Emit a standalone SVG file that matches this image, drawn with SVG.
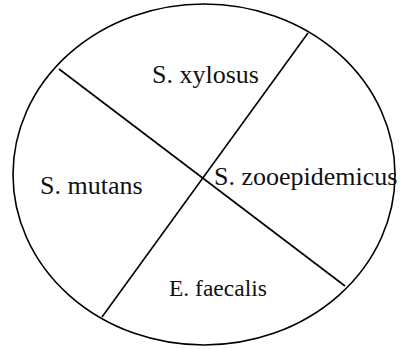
<svg xmlns="http://www.w3.org/2000/svg" width="406" height="349" viewBox="0 0 406 349">
<style>
.s{fill:none;stroke:#000;stroke-width:1.6}
.t{font-family:"Liberation Serif","Times New Roman",serif;font-size:26px;fill:#111}
</style>
<rect width="406" height="349" fill="#fff"/>
<g id="outline"><ellipse class="s" cx="204" cy="174.5" rx="191" ry="170.5"/></g>
<g id="connectors">
<line class="s" x1="59" y1="69" x2="345" y2="286"/>
<line class="s" x1="308" y1="33" x2="102" y2="317"/>
</g>
<g id="xylosus"><text class="t" x="152" y="83">S. xylosus</text></g>
<g id="mutans"><text class="t" x="40" y="194">S. mutans</text></g>
<g id="zooepidemicus"><text class="t" x="214" y="185">S. zooepidemicus</text></g>
<g id="faecalis"><text class="t" x="169" y="296" style="font-size:23.5px">E. faecalis</text></g>
</svg>
